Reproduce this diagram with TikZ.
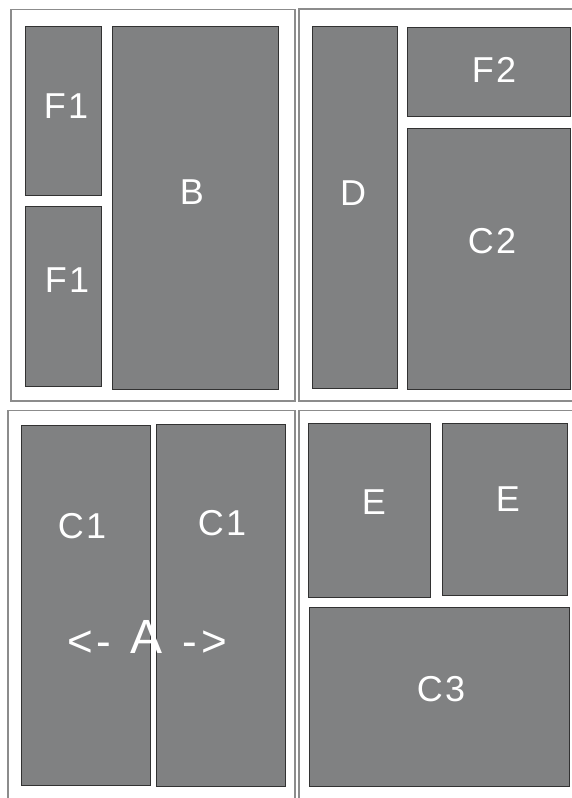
\documentclass[tikz,border=0pt]{standalone}
\usepackage{fontspec}
\setmainfont[LetterSpace=6]{Liberation Sans}
\definecolor{boxfill}{RGB}{128,129,130}
\definecolor{boxline}{RGB}{50,50,50}
\definecolor{panelline}{RGB}{140,140,140}
\begin{document}
\begin{tikzpicture}[x=1pt,y=-1pt,
  panel/.style={draw=panelline,line width=1.5pt,fill=none,inner sep=0pt,outer sep=0pt},
  blk/.style={draw=boxline,line width=1pt,fill=boxfill,inner sep=0pt,outer sep=0pt},
  lbl/.style={text=white,anchor=base,inner sep=0pt,font=\fontsize{36}{40}\selectfont},
  arrlbl/.style={text=white,anchor=base,inner sep=0pt,font=\fontsize{44}{48}\selectfont},
  biglbl/.style={text=white,anchor=base,inner sep=0pt,font=\fontsize{48}{52}\selectfont}]
\useasboundingbox (0,0) rectangle (572,798);
\clip (0,0) rectangle (572,798);
% panels
\node[panel,minimum width=284pt,minimum height=391.5pt] (ptl) at (153,205.25) {};
\node[panel,minimum width=281pt,minimum height=392pt] (ptr) at (439.5,205) {};
\node[panel,minimum width=287pt,minimum height=399.5pt] (pbl) at (151.5,610.25) {};
\node[panel,minimum width=281pt,minimum height=399.5pt] (pbr) at (439.5,610.25) {};
% blocks
\node[blk,minimum width=76pt,minimum height=169pt] (f1a) at (63,110.5) {};
\node[blk,minimum width=76pt,minimum height=179.5pt] (f1b) at (63.5,296.25) {};
\node[blk,minimum width=166pt,minimum height=363pt] (b) at (195,207.5) {};
\node[blk,minimum width=85pt,minimum height=361.5pt] (d) at (355,207.25) {};
\node[blk,minimum width=163.5pt,minimum height=89pt] (f2) at (488.75,71.5) {};
\node[blk,minimum width=163.5pt,minimum height=260.5pt] (c2) at (488.75,258.75) {};
\node[blk,minimum width=129.5pt,minimum height=359.5pt] (c1a) at (85.75,605.25) {};
\node[blk,minimum width=129pt,minimum height=362.5pt] (c1b) at (221,605.25) {};
\node[blk,minimum width=122pt,minimum height=174pt] (ea) at (369,510) {};
\node[blk,minimum width=124.5pt,minimum height=172.5pt] (eb) at (504.75,509.25) {};
\node[blk,minimum width=260pt,minimum height=179.5pt] (c3) at (439,696.75) {};
% labels
\node[lbl] (tf1a) at (66,118) {F1};
\node[lbl] (tf1b) at (67,292) {F1};
\node[lbl] (tb) at (192,204) {B};
\node[lbl] (td) at (353,205) {D};
\node[lbl] (tf2) at (494,82) {F2};
\node[lbl] (tc2) at (492,253) {C2};
\node[lbl] (tc1a) at (82,538) {C1};
\node[lbl] (tc1b) at (222,535) {C1};
\node[lbl] (tea) at (374,514) {E};
\node[lbl] (teb) at (508,511) {E};
\node[lbl] (tc3) at (441,701) {C3};
\node[arrlbl] (tlt) at (80,656) {<};
\node[arrlbl] (tld) at (104,656) {-};
\node[biglbl] (ta) at (147,653) {A};
\node[arrlbl] (trd) at (190,656) {-};
\node[arrlbl] (tgt) at (214,656) {>};
\end{tikzpicture}
\end{document}
